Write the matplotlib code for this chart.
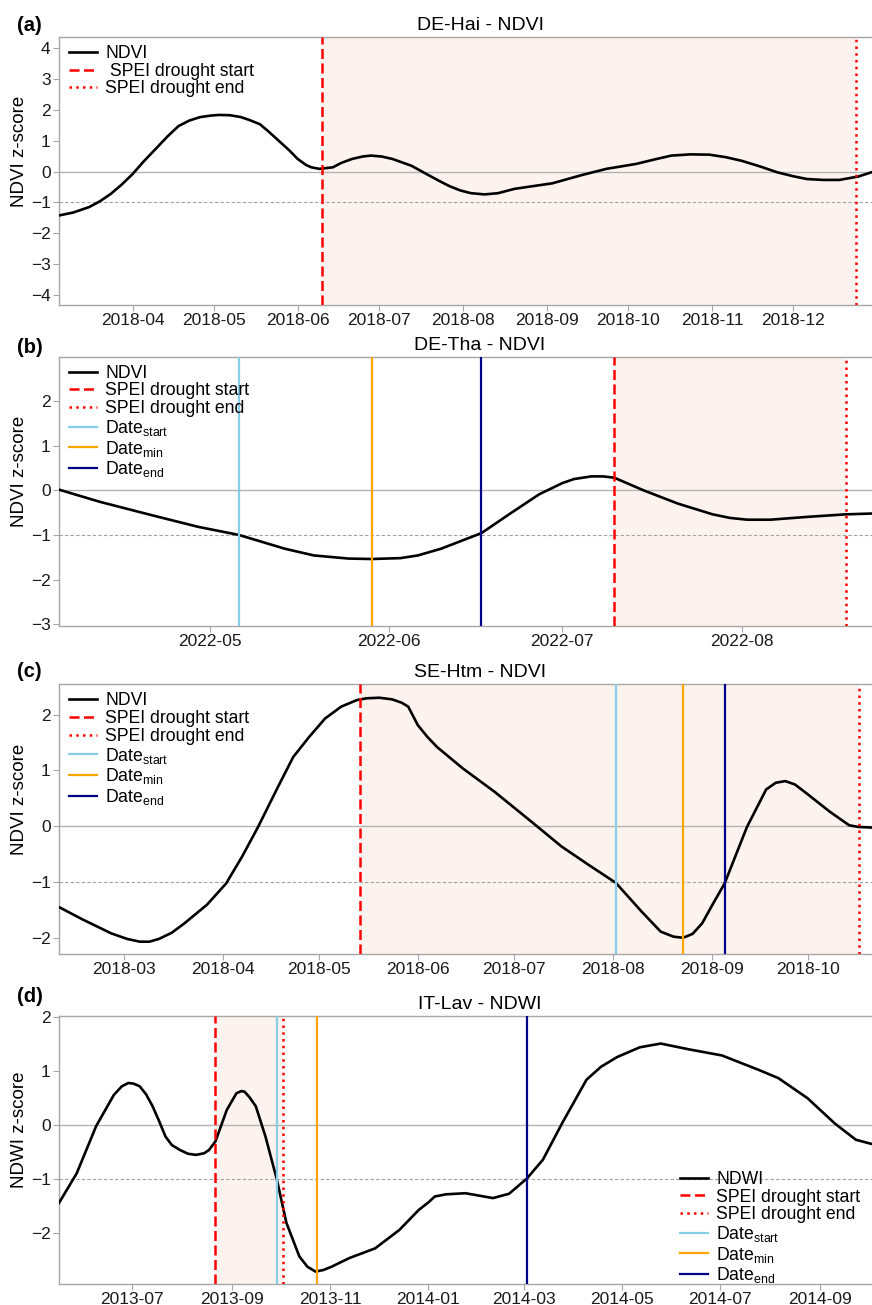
import numpy as np
import pandas as pd
import matplotlib
matplotlib.use('Agg')
import matplotlib.pyplot as plt
import matplotlib.dates as mdates

plt.rcParams['font.family'] = ['Liberation Sans', 'DejaVu Sans']
plt.rcParams['mathtext.fontset'] = 'custom'
plt.rcParams['mathtext.rm'] = 'Liberation Sans'

# ---- (a) DE-Hai NDVI ----
a_dates = ['2018-03-05', '2018-03-10', '2018-03-16', '2018-03-20', '2018-03-24', '2018-03-28',
           '2018-04-01', '2018-04-05', '2018-04-10', '2018-04-14', '2018-04-18', '2018-04-22',
           '2018-04-26', '2018-04-30', '2018-05-03', '2018-05-07', '2018-05-11', '2018-05-14',
           '2018-05-18', '2018-05-21', '2018-05-25', '2018-05-29', '2018-06-01', '2018-06-04',
           '2018-06-06', '2018-06-09', '2018-06-14', '2018-06-17', '2018-06-21', '2018-06-25',
           '2018-06-28', '2018-07-02', '2018-07-06', '2018-07-13', '2018-07-19', '2018-07-23',
           '2018-07-27', '2018-07-31', '2018-08-04', '2018-08-09', '2018-08-14', '2018-08-20',
           '2018-09-03', '2018-09-14', '2018-09-23', '2018-10-04', '2018-10-11', '2018-10-17',
           '2018-10-24', '2018-10-31', '2018-11-06', '2018-11-12', '2018-11-19', '2018-11-25',
           '2018-12-01', '2018-12-06', '2018-12-12', '2018-12-18', '2018-12-25', '2018-12-31']
a_vals = [-1.42, -1.33, -1.15, -0.96, -0.72, -0.42,
          -0.08, 0.32, 0.78, 1.15, 1.48, 1.66,
          1.77, 1.82, 1.84, 1.83, 1.77, 1.68,
          1.54, 1.32, 1.00, 0.68, 0.41, 0.22,
          0.14, 0.09, 0.14, 0.28, 0.41, 0.49,
          0.52, 0.49, 0.41, 0.19, -0.10, -0.29,
          -0.47, -0.61, -0.70, -0.74, -0.70, -0.56,
          -0.38, -0.11, 0.09, 0.25, 0.40, 0.52,
          0.56, 0.55, 0.47, 0.35, 0.16, -0.02,
          -0.15, -0.24, -0.27, -0.27, -0.16, 0.01]
a_spei = ['2018-06-10', '2018-12-24']

# ---- (b) DE-Tha NDVI ----
b_dates = ['2022-04-05', '2022-04-12', '2022-04-21', '2022-04-29', '2022-05-06', '2022-05-14',
           '2022-05-19', '2022-05-25', '2022-05-29', '2022-06-03', '2022-06-06', '2022-06-10',
           '2022-06-12', '2022-06-17', '2022-06-22', '2022-06-27', '2022-07-01', '2022-07-03',
           '2022-07-06', '2022-07-08', '2022-07-10', '2022-07-15', '2022-07-21', '2022-07-27',
           '2022-07-30', '2022-08-02', '2022-08-06', '2022-08-12', '2022-08-19', '2022-08-24']
b_vals = [0.01, -0.26, -0.56, -0.82, -1.00, -1.31,
          -1.46, -1.53, -1.54, -1.52, -1.46, -1.31,
          -1.21, -0.96, -0.52, -0.09, 0.16, 0.25,
          0.31, 0.31, 0.28, 0.00, -0.30, -0.54,
          -0.62, -0.66, -0.66, -0.60, -0.54, -0.52]
b_spei = ['2022-07-10', '2022-08-19']
b_events = ['2022-05-06', '2022-05-29', '2022-06-17']

# ---- (c) SE-Htm NDVI ----
c_dates = ['2018-02-09', '2018-02-16', '2018-02-25', '2018-03-02', '2018-03-06', '2018-03-09',
           '2018-03-12', '2018-03-16', '2018-03-20', '2018-03-27', '2018-04-02', '2018-04-07',
           '2018-04-12', '2018-04-18', '2018-04-23', '2018-04-28', '2018-05-03', '2018-05-08',
           '2018-05-13', '2018-05-16', '2018-05-20', '2018-05-24', '2018-05-27', '2018-05-29',
           '2018-06-01', '2018-06-04', '2018-06-07', '2018-06-15', '2018-06-25', '2018-07-06',
           '2018-07-16', '2018-07-24', '2018-08-02', '2018-08-10', '2018-08-16', '2018-08-20',
           '2018-08-23', '2018-08-26', '2018-08-29', '2018-09-01', '2018-09-05', '2018-09-12',
           '2018-09-18', '2018-09-21', '2018-09-24', '2018-09-27', '2018-09-30', '2018-10-08',
           '2018-10-14', '2018-10-17', '2018-10-21']
c_vals = [-1.45, -1.66, -1.91, -2.01, -2.06, -2.06,
          -2.01, -1.90, -1.73, -1.40, -1.02, -0.54,
          -0.01, 0.68, 1.24, 1.60, 1.93, 2.14,
          2.26, 2.29, 2.30, 2.27, 2.21, 2.14,
          1.81, 1.60, 1.42, 1.04, 0.62, 0.11,
          -0.36, -0.67, -1.01, -1.52, -1.88, -1.97,
          -1.99, -1.92, -1.73, -1.42, -1.02, -0.01,
          0.66, 0.78, 0.81, 0.75, 0.62, 0.26,
          0.02, -0.01, -0.02]
c_spei = ['2018-05-14', '2018-10-17']
c_events = ['2018-08-02', '2018-08-23', '2018-09-05']

# ---- (d) IT-Lav NDWI ----
d_dates = ['2013-05-17', '2013-05-28', '2013-06-09', '2013-06-20', '2013-06-25', '2013-06-29',
           '2013-07-02', '2013-07-06', '2013-07-10', '2013-07-14', '2013-07-18', '2013-07-22',
           '2013-07-26', '2013-07-31', '2013-08-05', '2013-08-10', '2013-08-15', '2013-08-18',
           '2013-08-22', '2013-08-29', '2013-09-04', '2013-09-07', '2013-09-09', '2013-09-12',
           '2013-09-16', '2013-09-22', '2013-09-29', '2013-10-05', '2013-10-13', '2013-10-18',
           '2013-10-23', '2013-10-28', '2013-11-02', '2013-11-13', '2013-11-29', '2013-12-14',
           '2013-12-26', '2014-01-01', '2014-01-05', '2014-01-12', '2014-01-24', '2014-02-10',
           '2014-02-20', '2014-03-03', '2014-03-13', '2014-03-25', '2014-04-09', '2014-04-18',
           '2014-04-28', '2014-05-12', '2014-05-25', '2014-06-12', '2014-07-02', '2014-07-25',
           '2014-08-06', '2014-08-24', '2014-09-10', '2014-09-23', '2014-10-03']
d_vals = [-1.44, -0.89, -0.02, 0.56, 0.72, 0.78,
          0.77, 0.72, 0.57, 0.35, 0.08, -0.21,
          -0.37, -0.46, -0.53, -0.55, -0.52, -0.46,
          -0.30, 0.28, 0.59, 0.63, 0.62, 0.52,
          0.35, -0.21, -1.00, -1.81, -2.43, -2.62,
          -2.71, -2.68, -2.62, -2.46, -2.28, -1.94,
          -1.57, -1.43, -1.32, -1.28, -1.26, -1.35,
          -1.27, -0.99, -0.64, 0.04, 0.84, 1.08,
          1.26, 1.44, 1.51, 1.40, 1.29, 1.02,
          0.87, 0.50, 0.03, -0.27, -0.35]
d_spei = ['2013-08-22', '2013-10-03']
d_events = ['2013-09-29', '2013-10-24', '2014-03-03']

W, H = 872, 1305
fig = plt.figure(figsize=(W / 100, H / 100), dpi=100)

# axes boxes in pixels: (top, bottom); axes run from x=59 to x=901 (cropped on the right)
boxes = [(37, 305), (356.7, 626), (684.3, 954), (1016, 1284)]
lab_base = [31, 353, 677, 1002]

panels = [
    dict(tag='(a)', title='DE-Hai - NDVI', var='NDVI', d=a_dates, v=a_vals, spei=a_spei, ev=None,
         xlim=('2018-03-04T20', '2019-01-09T19'), ylim=(-4.33, 4.37), yt=np.arange(-4, 5),
         loc=mdates.MonthLocator(bymonth=range(3, 13)), start_lab=' SPEI drought start'),
    dict(tag='(b)', title='DE-Tha - NDVI', var='NDVI', d=b_dates, v=b_vals, spei=b_spei, ev=b_events,
         xlim=('2022-04-04T22', '2022-08-28T14'), ylim=(-3.04, 2.99), yt=np.arange(-3, 3),
         loc=mdates.MonthLocator(), start_lab='SPEI drought start'),
    dict(tag='(c)', title='SE-Htm - NDVI', var='NDVI', d=c_dates, v=c_vals, spei=c_spei, ev=c_events,
         xlim=('2018-02-08T17', '2018-10-30T05'), ylim=(-2.28, 2.54), yt=np.arange(-2, 3),
         loc=mdates.MonthLocator(), start_lab='SPEI drought start'),
    dict(tag='(d)', title='IT-Lav - NDWI', var='NDWI', d=d_dates, v=d_vals, spei=d_spei, ev=d_events,
         xlim=('2013-05-17', '2014-10-21'), ylim=(-2.94, 2.02), yt=np.arange(-2, 3),
         loc=mdates.MonthLocator(bymonth=[1, 3, 5, 7, 9, 11]), start_lab='SPEI drought start'),
]

ev_cols = ['skyblue', 'orange', 'darkblue']
ev_labs = ['Date$_\\mathregular{start}$', 'Date$_\\mathregular{min}$', 'Date$_\\mathregular{end}$']
spine_col = '#a6a6a6'

for i, p in enumerate(panels):
    top, bot = boxes[i]
    ax = fig.add_axes([59 / W, 1 - bot / H, 842 / W, (bot - top) / H])
    s0, s1 = pd.to_datetime(p['spei'])
    ax.axvspan(s0, s1, color='#fdf3ee', zorder=0, lw=0)
    ax.axhline(0, color='#b3b3b3', lw=1.0, zorder=1)
    ax.axhline(-1, color='#a0a0a0', lw=0.8, ls=(0, (3, 2)), zorder=1)
    ax.plot(pd.to_datetime(p['d']), p['v'], color='black', lw=1.9, label=p['var'], zorder=3,
            solid_joinstyle='round')
    ax.axvline(s0, color='red', lw=1.8, ls=(0, (4, 1.8)), label=p['start_lab'], zorder=4)
    ax.axvline(s1, color='red', lw=1.8, ls=(0, (1, 1.7)), label='SPEI drought end', zorder=4)
    if p['ev'] is not None:
        for dt, col, lab in zip(pd.to_datetime(p['ev']), ev_cols, ev_labs):
            ax.axvline(dt, color=col, lw=1.6, label=lab, zorder=4)

    ax.set_xlim(pd.Timestamp(p['xlim'][0]), pd.Timestamp(p['xlim'][1]))
    ax.set_ylim(*p['ylim'])
    ax.set_yticks(p['yt'])
    ax.xaxis.set_major_locator(p['loc'])
    ax.xaxis.set_major_formatter(mdates.DateFormatter('%Y-%m'))
    ax.tick_params(axis='both', length=4, width=0.8, color=spine_col, pad=2,
                   labelsize=12.5, labelcolor='#1a1a1a')
    for sp in ax.spines.values():
        sp.set_color(spine_col)
        sp.set_linewidth(1.0)
    ax.set_ylabel(p['var'] + ' z-score', fontsize=13.5)
    ax.yaxis.set_label_coords(-0.037, 0.575)
    ax.set_title(p['title'], fontsize=14, pad=5)
    fig.text(17 / W, 1 - lab_base[i] / H, p['tag'], fontsize=14.5, fontweight='bold', va='baseline')

    leg_kw = dict(frameon=False, fontsize=12.7, borderaxespad=0, borderpad=0,
                  handlelength=1.6, handletextpad=0.45, labelspacing=0.04)
    if i < 3:
        ax.legend(loc='upper left', bbox_to_anchor=(0.012, 0.97), **leg_kw)
    else:
        ax.legend(loc='lower left', bbox_to_anchor=(0.7375, -0.005), **leg_kw)

fig.savefig('out.png', dpi=100)
